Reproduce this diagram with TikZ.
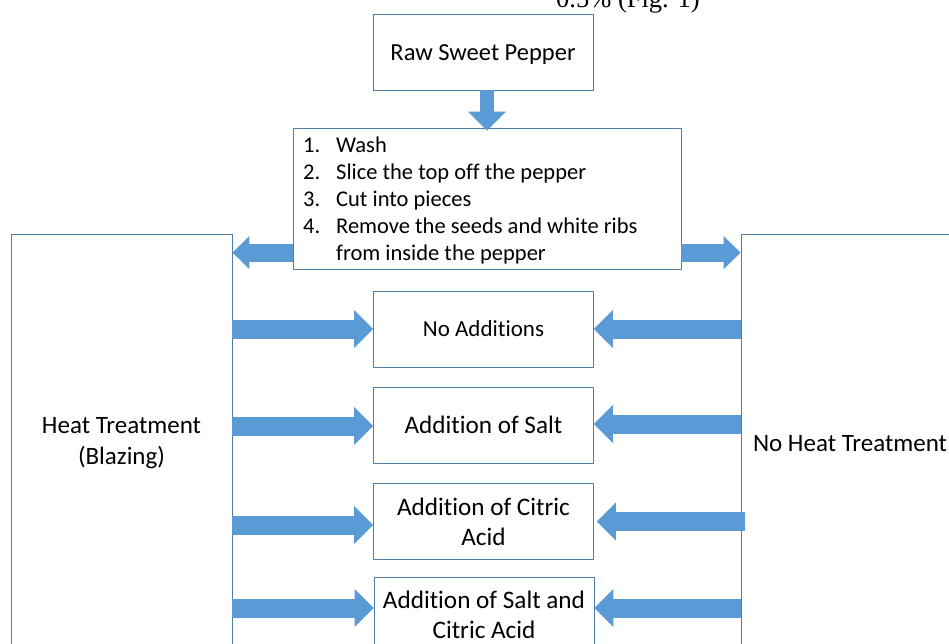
\documentclass[tikz,border=0pt]{standalone}
\usepackage{fontspec}
\setmainfont{Carlito}[Ligatures=NoCommon]
\newfontfamily\timesfont{Liberation Serif}
\usetikzlibrary{arrows.meta}
\definecolor{arrowblue}{RGB}{91,155,213}
\definecolor{boxline}{RGB}{80,125,170}
\newcommand\myfs[2]{\fontsize{#1}{#2}\selectfont}
\newcommand\tup{\rule{0pt}{21pt}}
\begin{document}
\begin{tikzpicture}[x=1pt,y=-1pt,
  box/.style={draw=boxline, line width=0.8pt, fill=white, inner sep=0pt,
    minimum width=220pt, minimum height=76pt, align=center, font=\myfs{25.2}{30}},
  fatarrow/.style={draw=arrowblue, line width=19pt, -{Triangle[length=19pt,width=37pt]}},
  sidearrow/.style={draw=arrowblue, line width=18pt, -{Triangle[length=17pt,width=32pt]}},
  downarrow/.style={draw=arrowblue, line width=14pt, -{Triangle[length=19pt,width=37pt]}}]
\useasboundingbox (0,0) rectangle (949,643);
\fill[white] (0,0) rectangle (949,643);
\node[anchor=base west, inner sep=0pt, font=\timesfont\myfs{26.5}{30}] (fig) at (556,7) {0.5\% (Fig. 1)};
\node[box, font=\myfs{24.5}{30}] (raw) at (483,52) {\tup Raw Sweet Pepper};
\node[box, minimum width=388pt, minimum height=141pt] (steps) at (487,198.5) {};
\node[anchor=base west, inner sep=0pt, font=\myfs{22.5}{27}] (list) at (303,152)
  {\begin{tabular}[t]{@{}l@{}l@{}}
   \makebox[33pt][l]{1.} & Wash\\
   \makebox[33pt][l]{2.} & Slice the top off the pepper\\
   \makebox[33pt][l]{3.} & Cut into pieces\\
   \makebox[33pt][l]{4.} & Remove the seeds and white ribs\\
    & from inside the pepper
   \end{tabular}};
\node[box, minimum width=221pt, minimum height=414pt, font=\myfs{25}{31}] (heat) at (121.5,441) {\tup Heat Treatment\\(Blazing)};
\node[box, minimum width=218pt, minimum height=414pt, font=\myfs{25}{31}] (noheat) at (850,441) {\tup No Heat Treatment};
\node[box, font=\myfs{23}{26}] (n1) at (483.5,329) {No Additions};
\node[box] (n2) at (483.5,425) {Addition of Salt};
\node[box] (n3) at (483.5,521.5) {Addition of Citric\\Acid};
\node[box] (n4) at (484,615) {Addition of Salt and\\Citric Acid};
% arrows
\draw[downarrow] (steps.north |- raw.south) -- ([yshift=-3pt]steps.north);
\coordinate (lt) at ([yshift=-19pt]heat.north east);
\coordinate (rt) at ([yshift=-19pt]noheat.north west);
\draw[sidearrow] (steps.west |- lt) -- (lt);
\draw[sidearrow] (steps.east |- rt) -- (rt);
\draw[fatarrow] (heat.east |- n1.west) -- (n1.west);
\draw[fatarrow] (noheat.west |- n1.east) -- (n1.east);
\draw[fatarrow] ([yshift=-1pt]heat.east |- n2.west) -- ([yshift=-1pt]n2.west);
\draw[fatarrow] ([yshift=1pt]noheat.west |- n2.east) -- ([yshift=1pt]n2.east);
\draw[fatarrow] ([yshift=-3.5pt]heat.east |- n3.west) -- ([yshift=-3.5pt]n3.west);
\draw[fatarrow] ([xshift=4pt]noheat.west |- n3.east) -- ([xshift=3pt]n3.east);
\draw[fatarrow] ([yshift=7pt]heat.east |- n4.west) -- ([yshift=7pt]n4.west);
\draw[fatarrow] ([yshift=7pt]noheat.west |- n4.east) -- ([yshift=7pt]n4.east);
\end{tikzpicture}
\end{document}
